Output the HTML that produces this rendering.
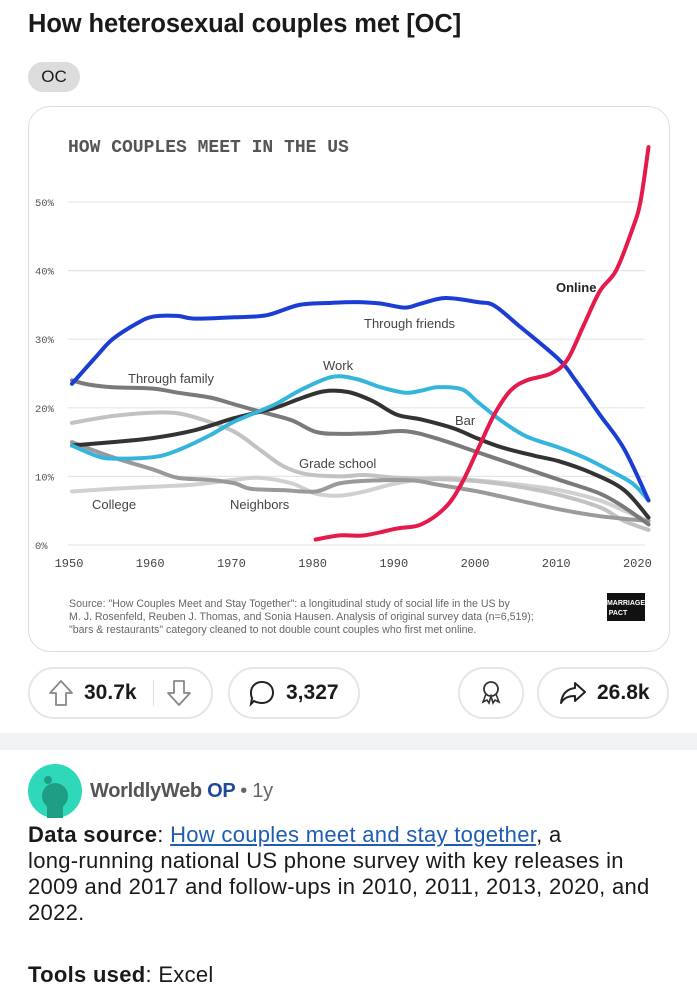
<!DOCTYPE html>
<html><head><meta charset="utf-8">
<style>
*{box-sizing:border-box;margin:0;padding:0}
body{width:697px;height:1000px;background:#fff;font-family:"Liberation Sans",sans-serif;position:relative;overflow:hidden;color:#1a1a1b}
.abs{position:absolute}
.pill{position:absolute;border:2px solid #e6e6e6;border-radius:26px;height:52px;display:flex;align-items:center;font-weight:bold;font-size:21px;color:#1a1a1b}
.body{position:absolute;left:28px;font-size:22px;line-height:26px;color:#1a1a1b;width:680px;letter-spacing:0.3px;white-space:nowrap}
</style></head><body>
<div class="abs" style="left:28px;top:10px;font-size:25.5px;font-weight:bold;letter-spacing:-0.1px">How heterosexual couples met [OC]</div>
<div class="abs" style="left:28px;top:62px;width:52px;height:30px;border-radius:15px;background:#dcdcdc;font-size:17px;display:flex;align-items:center;justify-content:center">OC</div>
<div class="abs" style="left:28px;top:106px;width:642px;height:546px;border:1.5px solid #ddd;border-radius:22px"></div>
<svg id="chart" class="abs" style="left:0;top:0" width="697" height="660" viewBox="0 0 697 660">
<text x="68" y="152" font-family="Liberation Mono, monospace" font-weight="bold" font-size="18" fill="#555">HOW COUPLES MEET IN THE US</text>
<g id="grid"></g><g id="lines"></g>
<g font-family="Liberation Sans, sans-serif" font-size="13" fill="#444">
<text x="364" y="328">Through friends</text>
<text x="128" y="383">Through family</text>
<text x="323" y="370">Work</text>
<text x="455" y="425">Bar</text>
<text x="299" y="468">Grade school</text>
<text x="92" y="509">College</text>
<text x="230" y="509">Neighbors</text>
<text x="556" y="292" font-weight="bold" fill="#222">Online</text>
</g>
<g font-family="Liberation Sans, sans-serif" font-size="10.6" fill="#666">
<text x="69" y="607">Source: "How Couples Meet and Stay Together": a longitudinal study of social life in the US by</text>
<text x="69" y="620">M. J. Rosenfeld, Reuben J. Thomas, and Sonia Hausen. Analysis of original survey data (n=6,519);</text>
<text x="69" y="633">"bars &amp; restaurants" category cleaned to not double count couples who first met online.</text>
</g>
<rect x="607" y="593" width="38" height="28" fill="#111"/>
<text x="626" y="605" font-size="7" font-weight="bold" fill="#fff" text-anchor="middle" font-family="Liberation Sans, sans-serif">MARRIAGE</text>
<text x="618" y="615" font-size="7" font-weight="bold" fill="#fff" text-anchor="middle" font-family="Liberation Sans, sans-serif">PACT</text>
</svg>

<div class="pill" style="left:28px;top:667px;width:185px;padding-left:18px">
<svg width="26" height="28" viewBox="0 0 26 28"><path d="M13 2 L24 14 H18 V26 H8 V14 H2 Z" fill="none" stroke="#888" stroke-width="1.8" stroke-linejoin="round"/></svg>
<span style="margin-left:10px">30.7k</span>
<span style="width:1px;height:26px;background:#ddd;margin-left:16px"></span>
<svg style="margin-left:12px" width="26" height="28" viewBox="0 0 26 28"><path d="M13 26 L24 14 H18 V2 H8 V14 H2 Z" fill="none" stroke="#888" stroke-width="1.8" stroke-linejoin="round"/></svg>
</div>
<div class="pill" style="left:228px;top:667px;width:132px;padding-left:18px">
<svg width="28" height="28" viewBox="0 0 28 28"><path d="M14 3 C21 3 25 8 25 13.5 C25 19 21 24 14 24 C11 24 8 23 6 22 L3 25 L4 19 C3 17.5 3 15.5 3 13.5 C3 8 7 3 14 3 Z" fill="none" stroke="#222" stroke-width="2"/></svg>
<span style="margin-left:10px">3,327</span></div>
<div class="pill" style="left:458px;top:667px;width:66px;justify-content:center">
<svg width="24" height="28" viewBox="0 0 24 28"><circle cx="12" cy="10" r="7" fill="none" stroke="#333" stroke-width="1.8"/><path d="M7 15 L4 23 L8 21 L10 24 L12 17 L14 24 L16 21 L20 23 L17 15" fill="none" stroke="#333" stroke-width="1.6"/></svg></div>
<div class="pill" style="left:537px;top:667px;width:132px;padding-left:20px">
<svg width="28" height="26" viewBox="0 0 28 26"><path d="M16 3 L26 12 L16 21 V16 C9 16 5 18 2 23 C3 14 8 9 16 8 Z" fill="none" stroke="#222" stroke-width="2" stroke-linejoin="round"/></svg>
<span style="margin-left:10px">26.8k</span></div>

<div class="abs" style="left:0;top:733px;width:697px;height:17px;background:#f2f3f5"></div>
<svg class="abs" style="left:28px;top:764px" width="54" height="54">
<circle cx="27" cy="27" r="27" fill="#2fd8b8"/><circle cx="27" cy="32" r="13" fill="#1f9e86"/><circle cx="20" cy="16" r="4" fill="#1f9e86"/><rect x="19" y="42" width="16" height="12" fill="#1f9e86"/></svg>
<div class="abs" style="left:90px;top:780px;font-size:20px;color:#555;font-weight:bold;letter-spacing:-0.3px">WorldlyWeb <span style="color:#1f4b99">OP</span> <span style="font-weight:normal;color:#666">• 1y</span></div>
<div class="body" style="top:822px"><b>Data source</b>: <span style="color:#1f5db3;text-decoration:underline">How couples meet and stay together</span>, a<br>long-running national US phone survey with key releases in<br>2009 and 2017 and follow-ups in 2010, 2011, 2013, 2020, and<br>2022.</div>
<div class="body" style="top:962px"><b>Tools used</b>: Excel</div>

<script>
const yTicks=[0,10,20,30,40,50];
const xTicks=[1950,1960,1970,1980,1990,2000,2010,2020];
const friendsYears=[1950,1953,1955,1958,1960,1963,1965,1970,1974,1978,1982,1985,1988,1991,1993,1996,2000,2002,2005,2010,2012,2015,2018,2021];
const friendsVals=[23.5,27.5,30,32.3,33.3,33.4,33,33.2,33.5,35,35.3,35.4,35.2,34.6,35.2,36,35.4,34.9,32,27,24,19,14,6.5];
const onlineYears=[1980,1983,1986,1990,1993,1996,1998,2000,2002,2004,2006,2009,2011,2013,2015,2017,2019,2020,2021];
const onlineVals=[0.8,1.4,1.4,2.4,3.0,5.5,9,14,19,22.5,24,25,27,32,37,40,46,50,58];
const workYears=[1950,1953,1955,1960,1963,1967,1970,1975,1978,1982,1985,1988,1991,1993,1995,1998,2000,2003,2006,2010,2013,2016,2019,2021];
const workVals=[14.5,13,12.6,12.8,13.8,16,18,20.5,22.5,24.5,24.2,23,22.2,22.5,23,22.7,20.8,18,15.8,14.2,12.8,11,9,6.5];
const barYears=[1950,1955,1960,1965,1970,1975,1978,1981,1984,1987,1990,1993,1997,2000,2003,2007,2010,2014,2018,2021];
const barVals=[14.5,15,15.6,16.7,18.5,20,21.3,22.4,22.3,21,19,18.3,17,15.5,14.2,13,12.2,10.5,8,4];
const familyYears=[1950,1952,1955,1960,1963,1967,1970,1973,1977,1980,1983,1987,1991,1995,2000,2005,2010,2015,2018,2021];
const familyVals=[24,23.4,23,22.8,22.2,21.5,20.5,19.5,18.2,16.5,16.2,16.3,16.6,15.5,13.5,11.5,9.5,7.5,5.5,3];
const gradeYears=[1950,1955,1960,1963,1966,1970,1973,1976,1979,1983,1986,1990,1995,2000,2005,2010,2015,2018,2021];
const gradeVals=[17.8,18.8,19.3,19.2,18.3,16.5,14,11.5,10.3,10,10.2,9.8,9.6,9.3,8.5,7.3,5.5,3.5,2.2];
const neighborYears=[1950,1955,1960,1963,1967,1970,1972,1976,1980,1983,1987,1992,1995,2000,2005,2010,2015,2021];
const neighborVals=[15,12.8,11,9.8,9.5,9,8.2,8,7.8,9,9.4,9.4,8.8,7.8,6.5,5.2,4.2,3.5];
const collegeYears=[1950,1955,1960,1965,1970,1973,1977,1980,1983,1986,1990,1995,2000,2005,2010,2015,2018,2021];
const collegeVals=[7.8,8.2,8.5,8.8,9.5,9.8,9.0,7.5,7.2,7.8,9,9.8,9.4,8.8,8,6.5,5,3.5];

const X=y=>72+(y-1950)*8.12;
const Y=v=>545-v*6.86;
const NS='http://www.w3.org/2000/svg';
const grid=document.getElementById('grid');
yTicks.forEach(t=>{
  const l=document.createElementNS(NS,'line');
  l.setAttribute('x1',68);l.setAttribute('x2',645);l.setAttribute('y1',Y(t));l.setAttribute('y2',Y(t));
  l.setAttribute('stroke','#e6e6e6');l.setAttribute('stroke-width','1.2');
  
  
  grid.appendChild(l);
  const tx=document.createElementNS(NS,'text');
  tx.setAttribute('x',35);tx.setAttribute('y',Y(t)+4);tx.setAttribute('font-size','10.5');tx.setAttribute('font-family','Liberation Mono, monospace');tx.setAttribute('fill','#555');
  tx.textContent=t+'%';
  
  
  grid.appendChild(tx);
});
xTicks.forEach(t=>{
  const tx=document.createElementNS(NS,'text');
  tx.setAttribute('x',X(t)-3);tx.setAttribute('y',567);tx.setAttribute('font-size','12');tx.setAttribute('font-family','Liberation Mono, monospace');tx.setAttribute('fill','#444');tx.setAttribute('text-anchor','middle');
  tx.textContent=t;
  
  
  grid.appendChild(tx);
});
function path(xs,vs){
  const p=xs.map((x,i)=>[X(x),Y(vs[i])]);
  let d='M'+p[0][0]+' '+p[0][1];
  for(let i=0;i<p.length-1;i++){
    const p0=p[i-1]||p[i],p1=p[i],p2=p[i+1],p3=p[i+2]||p2;
    d+=` C${p1[0]+(p2[0]-p0[0])/6} ${p1[1]+(p2[1]-p0[1])/6} ${p2[0]-(p3[0]-p1[0])/6} ${p2[1]-(p3[1]-p1[1])/6} ${p2[0]} ${p2[1]}`;
  }
  return d;
}
const lines=document.getElementById('lines');
function draw(xs,vs,color,name){
  const el=document.createElementNS(NS,'path');
  el.setAttribute('d',path(xs,vs));el.setAttribute('fill','none');el.setAttribute('stroke',color);
  el.setAttribute('stroke-width','4');el.setAttribute('stroke-linecap','round');el.setAttribute('stroke-linejoin','round');
  
  
  lines.appendChild(el);
}
draw(collegeYears,collegeVals,'#d0d0d0','line-college');
draw(gradeYears,gradeVals,'#c2c2c2','line-grade-school');
draw(neighborYears,neighborVals,'#9a9a9a','line-neighbors');
draw(familyYears,familyVals,'#7a7a7a','line-through-family');
draw(barYears,barVals,'#333333','line-bar');
draw(workYears,workVals,'#35b5db','line-work');
draw(friendsYears,friendsVals,'#1a3dd4','line-through-friends');
draw(onlineYears,onlineVals,'#e6194b','line-online');
</script>
</body></html>
